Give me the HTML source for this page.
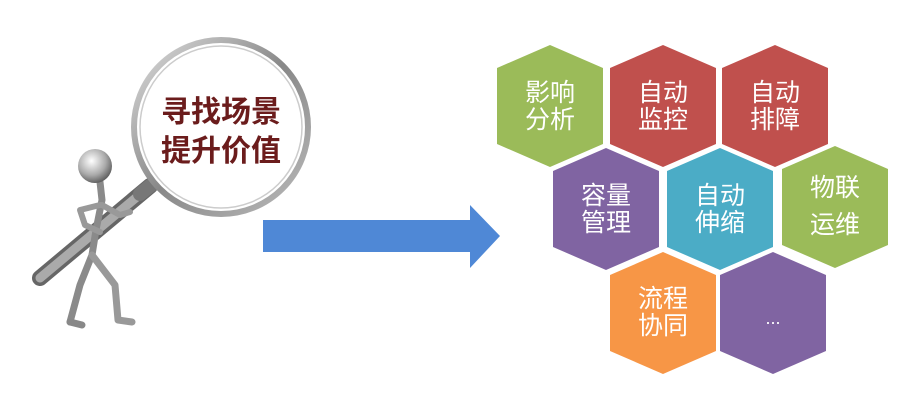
<!DOCTYPE html>
<html><head><meta charset="utf-8"><style>
html,body{margin:0;padding:0;background:#fff;}
svg{display:block}
text{font-family:"Liberation Sans","Noto Sans CJK SC",sans-serif;}
</style></head><body>
<svg width="904" height="402" viewBox="0 0 904 402" xmlns="http://www.w3.org/2000/svg">
<defs>
<linearGradient id="metal" x1="0" y1="0" x2="1" y2="1">
<stop offset="0" stop-color="#eee"/><stop offset="0.5" stop-color="#9a9a9a"/><stop offset="1" stop-color="#555"/></linearGradient>
<radialGradient id="head" cx="0.4" cy="0.35" r="0.7"><stop offset="0" stop-color="#fff"/><stop offset="0.6" stop-color="#aaa"/><stop offset="1" stop-color="#555"/></radialGradient>
<linearGradient id="ring" x1="0" y1="0" x2="1" y2="1"><stop offset="0" stop-color="#ddd"/><stop offset="0.5" stop-color="#888"/><stop offset="1" stop-color="#bbb"/></linearGradient>
</defs>
<!-- figure -->
<g stroke-linecap="round" stroke-linejoin="round" fill="none">
<line x1="40" y1="278" x2="150" y2="186" stroke="#666" stroke-width="16"/>
<line x1="40" y1="278" x2="150" y2="186" stroke="#aaa" stroke-width="9"/>
<line x1="140" y1="194" x2="170" y2="170" stroke="#777" stroke-width="14"/>
<path d="M100 182 L102 200 L96 230 L92 255 L80 285 L70 322" stroke="#8a8a8a" stroke-width="7"/>
<path d="M92 255 L115 285 L118 320 L132 322" stroke="#999" stroke-width="7"/>
<path d="M70 322 L82 325" stroke="#888" stroke-width="7"/>
<path d="M100 205 L80 210 L85 225 L100 232" stroke="#999" stroke-width="6"/>
<path d="M102 205 L120 215 L130 212" stroke="#999" stroke-width="6"/>
</g>
<circle cx="95" cy="166" r="17" fill="url(#head)"/>
<!-- magnifier -->
<circle cx="221" cy="127" r="87" fill="#fff" stroke="url(#ring)" stroke-width="6"/>
<circle cx="221" cy="127" r="81" fill="none" stroke="#ccc" stroke-width="1.5"/>
<text x="221" y="122" text-anchor="middle" font-size="30" font-weight="bold" fill="#6b1c1c">寻找场景</text>
<text x="221" y="161" text-anchor="middle" font-size="30" font-weight="bold" fill="#6b1c1c">提升价值</text>
<!-- arrow -->
<polygon points="263,220 470,220 470,205 500,236 470,268 470,252 263,252" fill="#4f88d6"/>
<!-- hexagons -->
<g font-size="25" fill="#fff" text-anchor="middle">
<polygon points="550,45 603,68 603,144 550,167 497,144 497,68" fill="#9bbb59"/>
<text x="550" y="101">影响</text><text x="550" y="128">分析</text>
<polygon points="663,45 716,68 716,144 663,167 610,144 610,68" fill="#c0504d"/>
<text x="663" y="101">自动</text><text x="663" y="128">监控</text>
<polygon points="775,45 828,68 828,144 775,167 722,144 722,68" fill="#c0504d"/>
<text x="775" y="101">自动</text><text x="775" y="128">排障</text>
<polygon points="606,148 659,171 659,247 606,270 553,247 553,171" fill="#8064a2"/>
<text x="606" y="204">容量</text><text x="606" y="231">管理</text>
<polygon points="720,148 773,171 773,247 720,270 667,247 667,171" fill="#4bacc6"/>
<text x="720" y="204">自动</text><text x="720" y="231">伸缩</text>
<polygon points="835,146 888,169 888,245 835,268 782,245 782,169" fill="#9bbb59"/>
<text x="835" y="196">物联</text><text x="835" y="233">运维</text>
<polygon points="663,252 716,275 716,351 663,374 610,351 610,275" fill="#f79646"/>
<text x="663" y="307">流程</text><text x="663" y="334">协同</text>
<polygon points="773,252 826,275 826,351 773,374 720,351 720,275" fill="#8064a2"/>
<text x="773" y="324" font-size="18">...</text>
</g>
</svg>
</body></html>
